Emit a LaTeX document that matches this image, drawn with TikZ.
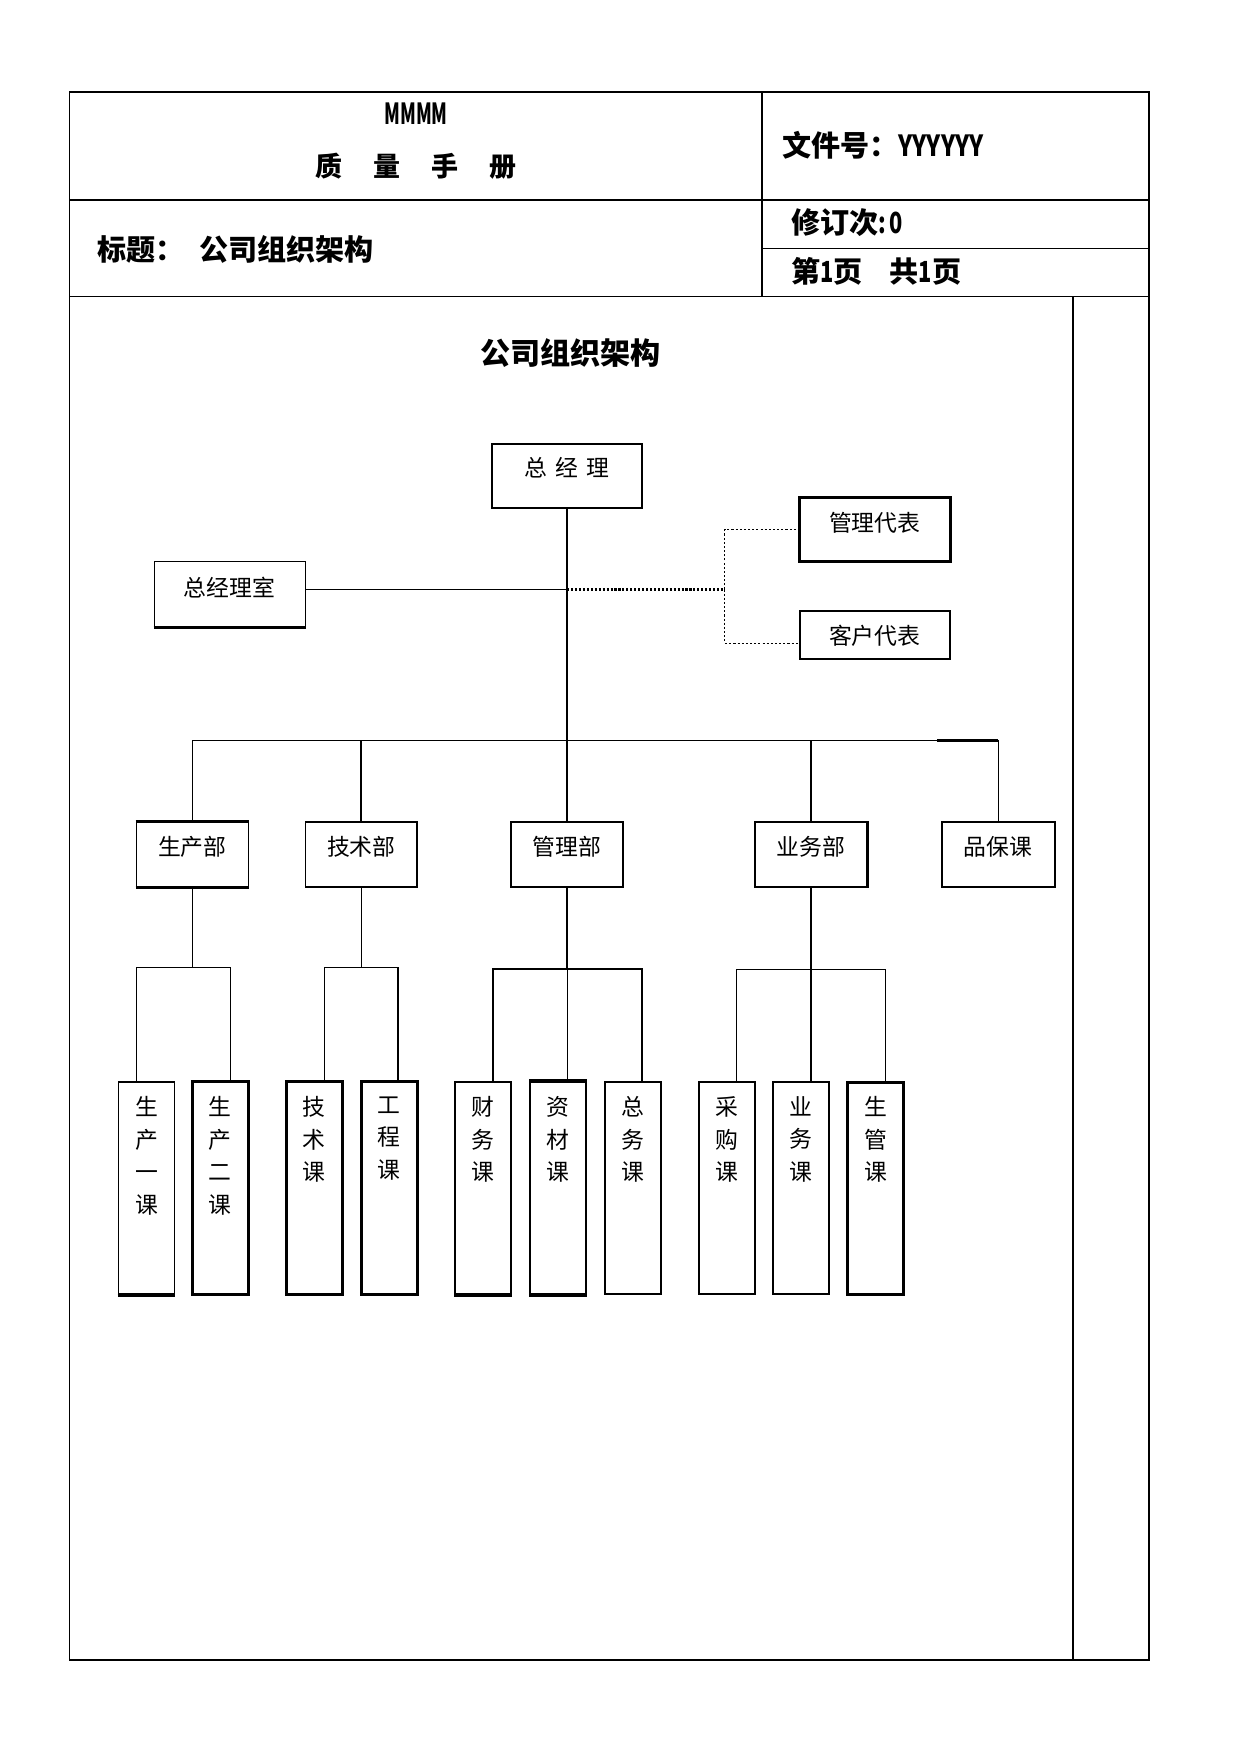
\documentclass[tikz,border=0pt]{standalone}
\usepackage{fontspec}
\usepackage{graphicx}
\setmainfont{Noto Sans CJK SC}
\usetikzlibrary{fit}
\begin{document}
\begin{tikzpicture}[x=0.018936cm, y=-0.018936cm,
  frameline/.style={line width=0.8pt},
  orgbox/.style={draw, line width=0.8pt, inner sep=0pt},
  thickbox/.style={draw, line width=1.4pt, inner sep=0pt},
  lbl/.style={font=\fontsize{11}{12}\selectfont, inner sep=0pt},
  vlbl/.style={font=\fontsize{11}{15.6}\selectfont, inner sep=0pt, align=center, anchor=north},
  conn/.style={line width=0.8pt},
  thinconn/.style={line width=0.5pt},
  thickedge/.style={line width=1.4pt},
  dotconn/.style={line width=1pt, dash pattern=on 1pt off 0.9pt},
  thindot/.style={line width=0.6pt, dash pattern=on 1pt off 1pt},
  hdr/.style={font=\bfseries\fontsize{14}{16}\selectfont, inner sep=0pt}
]
\useasboundingbox (0,0) rectangle (1109.4,1568);
\fill[white] (0,0) rectangle (1109.4,1568);

% ---- frame ----
\draw[frameline] (62,82) rectangle (1027,1484);
\draw[frameline] (681,82) -- (681,265);
\draw[frameline] (62,179) -- (1027,179);
\draw[frameline] (681,222) -- (1027,222);
\draw[frameline] (62,265) -- (1027,265);
\draw[frameline] (959,265) -- (959,1484);

% ---- header texts ----
\node[hdr] (mmmm) at (372,102) {\scalebox{0.62}[1]{MMMM}};
\node[hdr, font=\bfseries\fontsize{13}{16}\selectfont] (qm) at (372,149) {质\hspace{15pt}量\hspace{15pt}手\hspace{15pt}册};
\node[hdr, anchor=west] (docno) at (699,130) {文件号：\scalebox{0.8}[1]{YYYYYY}};
\node[hdr, anchor=west] (ttl) at (87,223) {标题：\hspace{7pt}公司组织架构};
\node[hdr, anchor=west] (rev) at (707,199) {修订次\scalebox{0.75}[1]{:\,0}};
\node[hdr, anchor=west] (page) at (707,243) {第\scalebox{0.75}[1]{1}页\hspace{13pt}共\scalebox{0.75}[1]{1}页};

% ---- chart title ----
\node[font=\bfseries\fontsize{14.5}{16}\selectfont, inner sep=0pt] (maintitle) at (510,316) {公司组织架构};

% ---- top level ----
\node[orgbox, fit={(440,397)(574,454)}] (gm) {};
\node[lbl] (gm-t) at (507,418) {总\hspace{4pt}经\hspace{4pt}理};
\node[thickbox, fit={(715,445)(850,502)}] (mr) {};
\node[lbl] (mr-t) at (782,467) {管理代表};
\node[orgbox, fit={(715,546)(849,589)}] (cr) {};
\node[lbl] (cr-t) at (782,568) {客户代表};
\node[orgbox, fit={(138,502)(273,560)}] (gmo) {};
\draw[thickedge] (gmo.south west) -- (gmo.south east);
\node[lbl] (gmo-t) at (205,525) {总经理室};

% ---- departments ----
\node[orgbox, fit={(122,735)(222,793)}] (d1) {};
\draw[thickedge] (d1.north west) -- (d1.north east);
\draw[thickedge] (d1.south west) -- (d1.south east);
\node[lbl] (d1-t) at (172,757) {生产部};
\node[orgbox, fit={(273,735)(373,793)}] (d2) {};
\node[lbl] (d2-t) at (323,757) {技术部};
\node[orgbox, fit={(457,735)(557,793)}] (d3) {};
\node[lbl] (d3-t) at (507,757) {管理部};
\node[orgbox, fit={(675,735)(775,793)}] (d4) {};
\draw[thickedge] (d4.north east) -- (d4.south east);
\node[lbl] (d4-t) at (725,757) {业务部};
\node[orgbox, fit={(842,735)(943,793)}] (d5) {};
\node[lbl] (d5-t) at (892,757) {品保课};

% ---- sections ----
\node[orgbox, fit={(106,967)(156,1157)}] (s1) {};
\draw[thickedge] (s1.south west) -- (s1.south east);
\node[vlbl] (s1-t) at (131,980) {生\\产\\一\\课};
\node[thickbox, fit={(172,967)(222,1157)}] (s2) {};
\node[vlbl] (s2-t) at (197,980) {生\\产\\二\\课};
\node[thickbox, fit={(256,967)(306,1157)}] (s3) {};
\node[vlbl] (s3-t) at (281,980) {技\\术\\课};
\node[thickbox, fit={(323,967)(373,1157)}] (s4) {};
\node[vlbl] (s4-t) at (348,980) {工\\程\\课};
\node[orgbox, fit={(407,967)(457,1157)}] (s5) {};
\draw[thickedge] (s5.south west) -- (s5.south east);
\node[vlbl] (s5-t) at (432,980) {财\\务\\课};
\node[orgbox, fit={(474,967)(524,1157)}] (s6) {};
\draw[thickedge] (s6.north west) -- (s6.north east);
\draw[thickedge] (s6.south west) -- (s6.south east);
\node[vlbl] (s6-t) at (499,980) {资\\材\\课};
\node[orgbox, fit={(541,967)(591,1157)}] (s7) {};
\node[vlbl] (s7-t) at (566,980) {总\\务\\课};
\node[orgbox, fit={(625,967)(675,1157)}] (s8) {};
\node[vlbl] (s8-t) at (650,980) {采\\购\\课};
\node[orgbox, fit={(691,967)(741,1157)}] (s9) {};
\node[vlbl] (s9-t) at (716,980) {业\\务\\课};
\node[thickbox, fit={(758,968)(808,1157)}] (s10) {};
\node[vlbl] (s10-t) at (783,980) {生\\管\\课};

% ---- connectors: top ----
\coordinate (bus) at (507,662);
\coordinate (j1) at (507,527);
\coordinate (dj) at (648,527);
\coordinate (crin) at (715,575);
\draw[conn] (gm.south) -- (bus);
\draw[conn] (gmo.east |- j1) -- (j1);
\draw[dotconn] (j1) -- (dj);
\draw[thindot] (dj) |- (mr.west);
\draw[thindot] (dj) |- (crin);

% ---- connectors: departments ----
\draw[conn] (d1.north) -- (d1.north |- bus) -- (d5.north |- bus) -- (d5.north);
\draw[conn] (d2.north) -- (d2.north |- bus);
\draw[conn] (d3.north) -- (bus);
\draw[thinconn] (d4.north) -- (d4.north |- bus);
\draw[thickedge] (838,662) -- (d5.north |- bus);

% ---- connectors: sections ----
\coordinate (b1) at (172,865);
\coordinate (a1) at (122,967);
\coordinate (a2) at (206,967);
\draw[conn] (d1.south) -- (b1);
\draw[thinconn] (a1) -- (a1 |- b1) -- (a2 |- b1) -- (a2);

\coordinate (b2) at (323,865);
\coordinate (a3) at (290,967);
\coordinate (a4) at (356,967);
\draw[thinconn] (d2.south) -- (b2);
\draw[conn] (a3) -- (a3 |- b2) -- (a4 |- b2) -- (a4);

\coordinate (b3) at (507,866);
\coordinate (a5) at (441,967);
\coordinate (a6) at (507,967);
\coordinate (a7) at (574,967);
\draw[conn] (d3.south) -- (b3);
\draw[conn] (a5) -- (a5 |- b3) -- (a7 |- b3) -- (a7);
\draw[thinconn] (b3) -- (a6);

\coordinate (b4) at (725,867);
\coordinate (a8) at (658,967);
\coordinate (a9) at (725,967);
\coordinate (a10) at (792,967);
\draw[thinconn] (d4.south) -- (a9);
\draw[thinconn] (a8) -- (a8 |- b4) -- (a10 |- b4) -- (a10);
\end{tikzpicture}
\end{document}
